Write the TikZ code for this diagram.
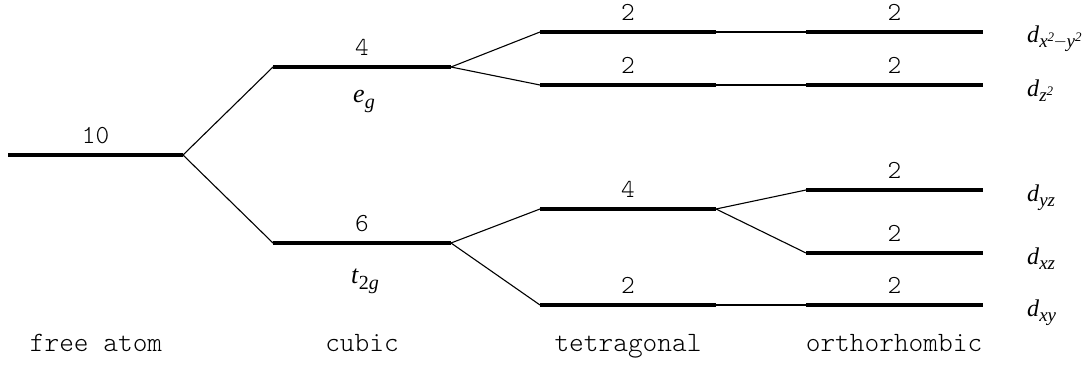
\documentclass[tikz,border=0pt]{standalone}
\usepackage{fontspec}
\setmainfont{Liberation Serif}
\setmonofont{Latin Modern Mono Light}
\usetikzlibrary{calc}

% orbital label: italic d with a lowered subscript
\newcommand{\orb}[1]{\textit{d}\raisebox{-5pt}{\fontsize{19}{20}\selectfont\textit{#1}}}
\newcommand{\sq}{\raisebox{6pt}{\fontsize{13}{14}\selectfont 2}}

\begin{document}
\begin{tikzpicture}[x=1pt,y=-1pt,
  levelline/.style={line width=3.8pt},
  link/.style={line width=1.1pt},
  count/.style={font=\fontsize{26}{28}\selectfont\ttfamily, anchor=base, inner sep=0pt},
  stage/.style={font=\fontsize{28}{30}\selectfont\ttfamily, anchor=base, inner sep=0pt},
  term/.style={font=\fontsize{26}{28}\selectfont, anchor=base, inner sep=0pt},
  orbital/.style={font=\fontsize{24}{26}\selectfont, anchor=base west, inner sep=0pt}]
\useasboundingbox (0,0) rectangle (1092,367);

% energy levels: name / left x / right x / height
\foreach \n/\xl/\xr/\yy in {fa/8/183/155,
    eg/273/451/67, tg/273/451/243,
    ta/540/716/32, tb/540/716/85, tc/540/716/209, td/540/716/305,
    oa/806/983/32, ob/806/983/85, oc/806/983/190, od/806/983/253, oe/806/983/305}{
  \coordinate (\n-l) at (\xl,\yy);
  \coordinate (\n-r) at (\xr,\yy);
  \draw[levelline] (\n-l) -- (\n-r);
}

% splitting connectors
\draw[link] (fa-r) -- (eg-l);
\draw[link] (fa-r) -- (tg-l);
\draw[link] (eg-r) -- (ta-l);
\draw[link] (eg-r) -- (tb-l);
\draw[link] (tg-r) -- (tc-l);
\draw[link] (tg-r) -- (td-l);
\draw[link] (ta-r) -- (oa-l);
\draw[link] (tb-r) -- (ob-l);
\draw[link] (tc-r) -- (oc-l);
\draw[link] (tc-r) -- (od-l);
\draw[link] (td-r) -- (oe-l);

% degeneracies
\foreach \n/\k in {fa/10, eg/4, tg/6, ta/2, tb/2, tc/4, td/2,
    oa/2, ob/2, oc/2, od/2, oe/2}{
  \node[count] (\n-k) at ($(\n-l)!0.5!(\n-r)+(0,-12)$) {\k};
}

% cubic term symbols
\node[term] (eg-t) at ($(eg-l)!0.5!(eg-r)+(2,35)$) {\textit{e}\raisebox{-6pt}{\fontsize{20}{22}\selectfont\textit{g}}};
\node[term] (tg-t) at ($(tg-l)!0.5!(tg-r)+(3,40)$) {\textit{t}\raisebox{-6pt}{\fontsize{20}{22}\selectfont 2\textit{g}}};

% orbital labels
\node[orbital] (oa-t) at (1027,42) {\orb{x\sq\kern-0.5pt\raisebox{1pt}{$-$}\kern-0.5pt y\sq}};
\node[orbital] (ob-t) at (1027,96) {\orb{z\sq}};
\node[orbital] (oc-t) at (1027,201) {\orb{yz}};
\node[orbital] (od-t) at (1027,264) {\orb{xz}};
\node[orbital] (oe-t) at (1027,316) {\orb{xy}};

% symmetry stages
\node[stage] (s1) at (96,351) {free atom};
\node[stage] (s2) at (362,351) {cubic};
\node[stage] (s3) at (628,351) {tetragonal};
\node[stage] (s4) at (894,351) {orthorhombic};
\end{tikzpicture}
\end{document}
